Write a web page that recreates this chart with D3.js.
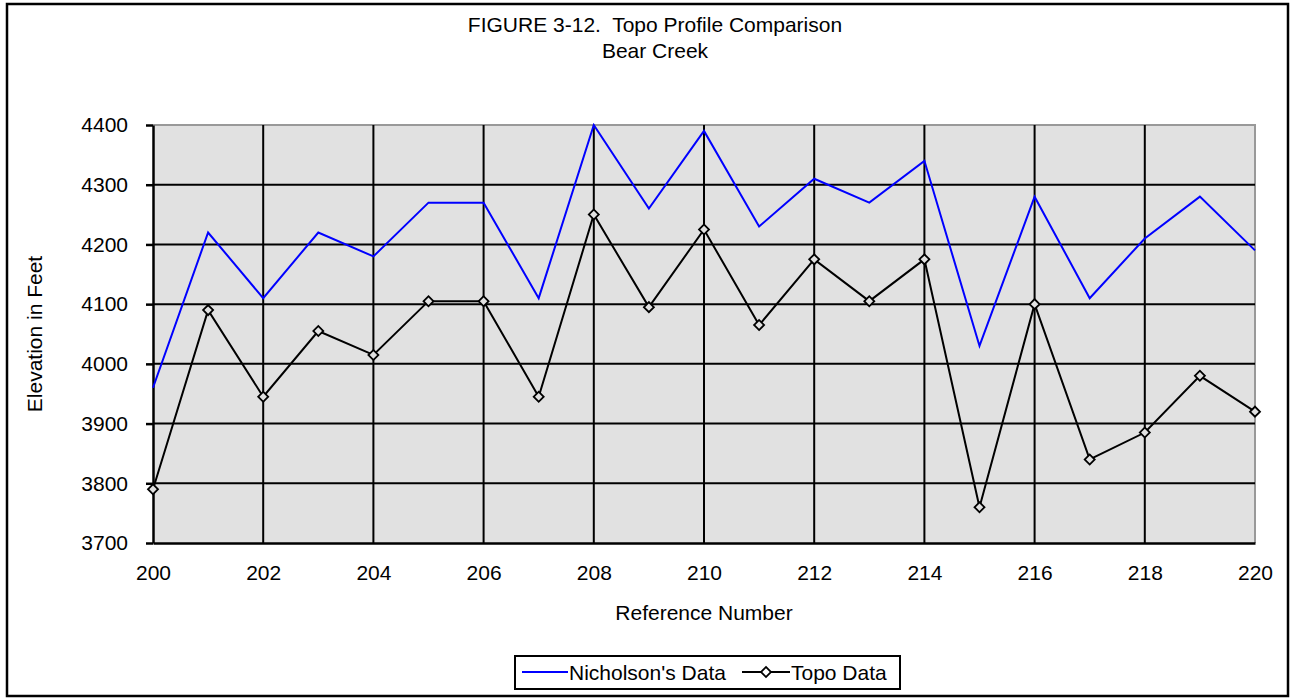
<!DOCTYPE html>
<html>
<head>
<meta charset="utf-8">
<script src="https://cdn.jsdelivr.net/npm/d3@7"></script>
<style>
  body { margin: 0; background: #fff; }
  svg { display: block; font-family: "Liberation Sans", Arial, sans-serif; }
</style>
</head>
<body>
<div class="chart"></div>
<script>
// data
var refNumbers = d3.range(200, 221);
var nicholson = [3960, 4220, 4110, 4220, 4180, 4270, 4270, 4110, 4400, 4260, 4390,
                 4230, 4310, 4270, 4340, 4030, 4280, 4110, 4210, 4280, 4190];
var topo = [3790, 4090, 3945, 4055, 4015, 4105, 4105, 3945, 4250, 4095, 4225,
            4065, 4175, 4105, 4175, 3760, 4100, 3840, 3885, 3980, 3920];
var xTicks = [200, 202, 204, 206, 208, 210, 212, 214, 216, 218, 220];
var yTicks = [3700, 3800, 3900, 4000, 4100, 4200, 4300, 4400];

var svgWidth = 1291, svgHeight = 698;
var margin = { top: 125, left: 153, right: 1291 - 1255, bottom: 698 - 543 };
var chartWidth = svgWidth - margin.left - margin.right;
var chartHeight = svgHeight - margin.top - margin.bottom;
var fontSize = "21px";

var svg = d3.select(".chart").append("svg")
    .attr("width", svgWidth)
    .attr("height", svgHeight);

// outer frame
svg.append("rect")
    .attr("x", 7).attr("y", 4)
    .attr("width", 1281).attr("height", 692)
    .attr("fill", "white").attr("stroke", "black").attr("stroke-width", 2.5);

// titles
svg.append("text").attr("x", 655).attr("y", 32)
    .attr("text-anchor", "middle").style("font-size", fontSize)
    .style("white-space", "pre")
    .text("FIGURE 3-12.  Topo Profile Comparison");
svg.append("text").attr("x", 655).attr("y", 58)
    .attr("text-anchor", "middle").style("font-size", fontSize)
    .text("Bear Creek");

var chartGroup = svg.append("g")
    .attr("transform", `translate(${margin.left}, ${margin.top})`);

var xScale = d3.scaleLinear().domain([200, 220]).range([0, chartWidth]);
var yScale = d3.scaleLinear().domain([3700, 4400]).range([chartHeight, 0]);

// plot background
chartGroup.append("rect")
    .attr("width", chartWidth).attr("height", chartHeight)
    .attr("fill", "#e1e1e1");

// top + right border in grey
chartGroup.append("path")
    .attr("d", `M0,0H${chartWidth}V${chartHeight}`)
    .attr("fill", "none").attr("stroke", "#999").attr("stroke-width", 2);

// grid lines
chartGroup.append("g").selectAll("line").data(yTicks.slice(1, -1))
    .enter().append("line")
    .attr("x1", 0).attr("x2", chartWidth)
    .attr("y1", d => yScale(d)).attr("y2", d => yScale(d))
    .attr("stroke", "black").attr("stroke-width", 2);
chartGroup.append("g").selectAll("line").data(xTicks.slice(1, -1))
    .enter().append("line")
    .attr("y1", 0).attr("y2", chartHeight)
    .attr("x1", d => xScale(d)).attr("x2", d => xScale(d))
    .attr("stroke", "black").attr("stroke-width", 2);

// axes
var yAxis = d3.axisLeft(yScale).tickValues(yTicks).tickFormat(d3.format("d"))
    .tickSizeInner(7).tickSizeOuter(0).tickPadding(18);
var xAxis = d3.axisBottom(xScale).tickValues(xTicks).tickFormat(d3.format("d"))
    .tickSize(0).tickPadding(22);

var yG = chartGroup.append("g").call(yAxis);
var xG = chartGroup.append("g").attr("transform", `translate(0, ${chartHeight})`).call(xAxis);
[yG, xG].forEach(function(g) {
    g.attr("font-size", null).attr("font-family", null);
    g.selectAll("path.domain").attr("stroke", "black").attr("stroke-width", 2.5);
    g.selectAll(".tick line").attr("stroke", "black").attr("stroke-width", 2.5);
    g.selectAll("text").attr("fill", "black").style("font-size", fontSize);
});

// axis titles
svg.append("text")
    .attr("transform", "translate(42, 334) rotate(-90)")
    .attr("text-anchor", "middle").style("font-size", fontSize)
    .text("Elevation in Feet");
svg.append("text")
    .attr("x", 704).attr("y", 620)
    .attr("text-anchor", "middle").style("font-size", fontSize)
    .text("Reference Number");

// lines
var line = d3.line().x((d, i) => xScale(refNumbers[i])).y(d => yScale(d));

chartGroup.append("path").datum(nicholson)
    .attr("d", line).attr("fill", "none")
    .attr("stroke", "#0000ff").attr("stroke-width", 2);

chartGroup.append("path").datum(topo)
    .attr("d", line).attr("fill", "none")
    .attr("stroke", "black").attr("stroke-width", 2);

var diamond = d3.symbol().type(d3.symbolSquare).size(50);
chartGroup.selectAll(".marker").data(topo).enter()
    .append("path").attr("class", "marker")
    .attr("d", diamond)
    .attr("transform", (d, i) => `translate(${xScale(refNumbers[i])}, ${yScale(d)}) rotate(45)`)
    .attr("fill", "#e1e1e1").attr("stroke", "black").attr("stroke-width", 1.8);

// legend
var legend = svg.append("g");
legend.append("rect")
    .attr("x", 515).attr("y", 656).attr("width", 385).attr("height", 33)
    .attr("fill", "white").attr("stroke", "black").attr("stroke-width", 2);
legend.append("line")
    .attr("x1", 522).attr("x2", 568).attr("y1", 672).attr("y2", 672)
    .attr("stroke", "#0000ff").attr("stroke-width", 2);
legend.append("text").attr("x", 569).attr("y", 680)
    .style("font-size", fontSize).text("Nicholson's Data");
legend.append("line")
    .attr("x1", 742).attr("x2", 790).attr("y1", 672).attr("y2", 672)
    .attr("stroke", "black").attr("stroke-width", 2);
legend.append("path").attr("d", diamond)
    .attr("transform", "translate(766, 672) rotate(45)")
    .attr("fill", "white").attr("stroke", "black").attr("stroke-width", 1.8);
legend.append("text").attr("x", 791).attr("y", 680)
    .style("font-size", fontSize).text("Topo Data");
</script>
</body>
</html>
